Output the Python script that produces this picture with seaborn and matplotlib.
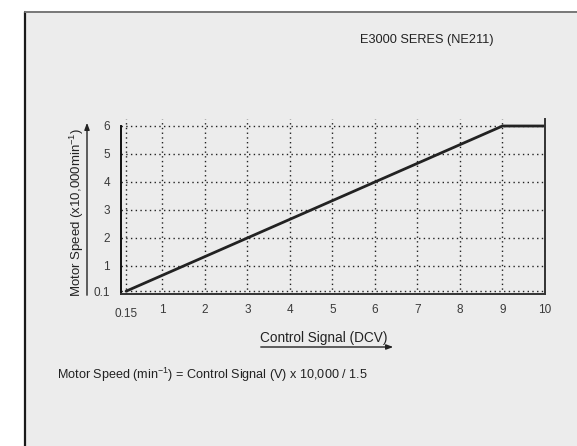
import matplotlib
matplotlib.use('Agg')
import matplotlib.pyplot as plt
import matplotlib.transforms as mtransforms
import seaborn as sns
import pandas as pd
from matplotlib.patches import Rectangle, FancyArrowPatch

# data
control_signal = [0.15, 9, 10]
motor_speed = [0.1, 6, 6]
x_ticks = [0.15, 1, 2, 3, 4, 5, 6, 7, 8, 9, 10]
x_tick_labels = ['0.15', '1', '2', '3', '4', '5', '6', '7', '8', '9', '10']
y_ticks = [0.1, 1, 2, 3, 4, 5, 6]
y_tick_labels = ['0.1', '1', '2', '3', '4', '5', '6']

df = pd.DataFrame({'signal': control_signal, 'speed': motor_speed})

sns.set_theme(style='white')
plt.rcParams['font.family'] = ['Liberation Sans', 'DejaVu Sans']
plt.rcParams['mathtext.fontset'] = 'custom'
plt.rcParams['mathtext.rm'] = 'Liberation Sans'
plt.rcParams['mathtext.it'] = 'Liberation Sans'

W, H = 577, 446
fig = plt.figure(figsize=(W / 100, H / 100), dpi=100)
fig.patch.set_facecolor('white')

# grey panel behind everything
fig.patches.append(Rectangle((25 / W, 0), 1, (H - 12) / H, transform=fig.transFigure,
                             facecolor='#ececec', edgecolor='none', zorder=-5))
fig.add_artist(plt.Line2D([25 / W, 25 / W], [0, (H - 12) / H], color='#1a1a1a', lw=1.6))
fig.add_artist(plt.Line2D([25 / W, 1], [(H - 12) / H, (H - 12) / H], color='#777777', lw=1.4))

ax = fig.add_axes([121 / W, (H - 294) / H, (545 - 121) / W, (294 - 119) / H])
ax.set_facecolor('none')
ax.set_zorder(1)

sns.lineplot(data=df, x='signal', y='speed', ax=ax, color='#222222', lw=2.0)

ax.set_xlim(0.03, 10)
ax.set_ylim(0, 6.25)
ax.set_xticks(x_ticks)
ax.set_xticklabels(x_tick_labels)
ax.set_yticks(y_ticks)
ax.set_yticklabels(y_tick_labels)
ax.grid(True, color='#222222', lw=1.0, linestyle=(0, (1, 2.4)))
ax.set_xlabel('')
ax.set_ylabel('')

ax.tick_params(axis='both', direction='inout', length=6, width=1.3, color='#222222',
               labelsize=8.5, labelcolor='#3a3a3a')
ax.tick_params(axis='x', pad=4)
ax.tick_params(axis='y', pad=5)

# the 0.15 label sits a little lower in the original
first = ax.get_xticklabels()[0]
first.set_transform(first.get_transform() +
                    mtransforms.ScaledTranslation(0, -4 / 100, fig.dpi_scale_trans))

ax.spines['top'].set_visible(False)
for s in ['left', 'bottom', 'right']:
    ax.spines[s].set_visible(True)
    ax.spines[s].set_color('#333333')
    ax.spines[s].set_linewidth(1.4)
ax.spines['left'].set_color('#111111')
ax.spines['left'].set_bounds(0, 6)

# axis labels with arrows
fig.text(77 / W, (H - 212) / H, 'Motor Speed (x10,000min$^{-1}$)', rotation=90,
         ha='center', va='center', fontsize=9.5, color='#222222')
fig.add_artist(FancyArrowPatch(
    (87 / W, (H - 298) / H), (87 / W, (H - 120) / H), transform=fig.transFigure,
    arrowstyle='-|>,head_length=4,head_width=1.5', color='#222222', lw=1.0))

fig.text(324 / W, (H - 338) / H, 'Control Signal (DCV)', ha='center', va='center',
         fontsize=9.8, color='#222222')
fig.add_artist(FancyArrowPatch(
    (258 / W, (H - 347) / H), (396 / W, (H - 347) / H), transform=fig.transFigure,
    arrowstyle='-|>,head_length=4,head_width=1.5', color='#222222', lw=1.0))

fig.text(494 / W, (H - 40) / H, 'E3000 SERES (NE211)', ha='right', va='center',
         fontsize=9.2, color='#222222')
fig.text(57 / W, (H - 375) / H,
         'Motor Speed (min$^{-1}$) = Control Signal (V) x 10,000 / 1.5',
         ha='left', va='center', fontsize=9.1, color='#222222')

fig.savefig('out.png', dpi=100)
